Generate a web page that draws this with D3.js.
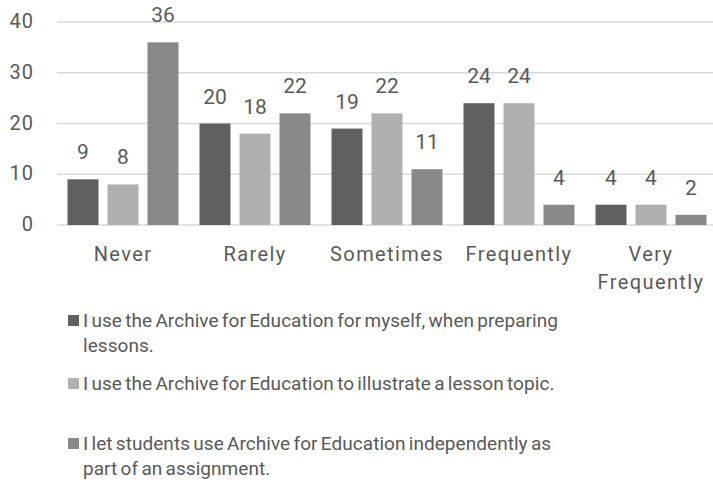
<!DOCTYPE html>
<html>
<head>
<meta charset="utf-8">
<script src="https://cdn.jsdelivr.net/npm/d3@7"></script>
<style>
  body { margin: 0; background: #fff; }
  text { font-family: Roboto, sans-serif; fill: #595959; }
</style>
</head>
<body>
<div id="chart"></div>
<script>
// Categories along the x axis (multi-line labels)
const categories = ["Never", "Rarely", "Sometimes", "Frequently", "Very Frequently"];
const categoryLines = [["Never"], ["Rarely"], ["Sometimes"], ["Frequently"], ["Very", "Frequently"]];

// Series values
const seriesNames = ["myself", "illustrate", "students"];
const myselfValues = [9, 20, 19, 24, 4];
const illustrateValues = [8, 18, 22, 24, 4];
const studentsValues = [36, 22, 11, 4, 2];

// Legend labels (already wrapped as in the picture)
const legendLines = [
    ["I use the Archive for Education for myself, when preparing", "lessons."],
    ["I use the Archive for Education to illustrate a lesson topic."],
    ["I let students use Archive for Education independently as", "part of an assignment."]
];

const yTicks = [0, 10, 20, 30, 40];
const colors = ["#606060", "#b0b0b0", "#898989"];

const width = 713, height = 484;
const margin = {top: 22, left: 57, right: -4, bottom: 259};

const svg = d3.select("#chart")
    .append("svg")
    .attr("width", width)
    .attr("height", height);

const allValues = [myselfValues, illustrateValues, studentsValues];

const y = d3.scaleLinear()
    .domain([0, 40])
    .range([225, margin.top]);

const x0 = d3.scaleBand()
    .domain(categories)
    .range([margin.left, width - margin.right]);

const x1 = d3.scaleBand()
    .domain(seriesNames)
    .range([0, x0.bandwidth()])
    .paddingInner(0.225)
    .paddingOuter(0.2625);

// Gridlines
svg.append("g")
    .selectAll("line")
    .data(yTicks)
    .join("line")
    .attr("x1", margin.left)
    .attr("x2", width)
    .attr("y1", d => y(d))
    .attr("y2", d => y(d))
    .attr("stroke", "#d9d9d9")
    .attr("stroke-width", 1.5);

// Y tick labels
svg.append("g")
    .selectAll("text")
    .data(yTicks)
    .join("text")
    .attr("x", 34)
    .attr("y", d => y(d) + 6)
    .attr("text-anchor", "end")
    .style("font-size", "20px")
    .style("letter-spacing", "1px")
    .text(d => d);

// Bars, grouped by category
const groups = svg.append("g")
    .selectAll("g")
    .data(categories)
    .join("g")
    .attr("transform", d => `translate(${x0(d)},0)`);

const cells = groups.selectAll("g")
    .data((c, ci) => seriesNames.map((s, si) => ({series: s, si: si, value: allValues[si][ci]})))
    .join("g");

cells.append("rect")
    .attr("x", d => x1(d.series))
    .attr("width", x1.bandwidth())
    .attr("y", d => y(d.value))
    .attr("height", d => y(0) - y(d.value))
    .attr("fill", d => colors[d.si]);

cells.append("text")
    .attr("x", d => x1(d.series) + x1.bandwidth() / 2)
    .attr("y", d => y(d.value) - 20)
    .attr("text-anchor", "middle")
    .style("font-size", "21px")
    .text(d => d.value);

// Category labels
svg.append("g")
    .selectAll("text")
    .data(categories)
    .join("text")
    .attr("x", d => x0(d) + x0.bandwidth() / 2)
    .attr("y", 261)
    .attr("text-anchor", "middle")
    .style("font-size", "20px")
    .style("letter-spacing", "1.4px")
    .selectAll("tspan")
    .data((d, i) => categoryLines[i])
    .join("tspan")
    .attr("x", function() { return this.parentNode.getAttribute("x"); })
    .attr("dy", (d, i) => i === 0 ? 0 : 28)
    .text(d => d);

// Legend
const legendY = [327, 390, 450];
const legend = svg.append("g")
    .selectAll("g")
    .data(seriesNames)
    .join("g")
    .attr("transform", (d, i) => `translate(68,${legendY[i]})`);

legend.append("rect")
    .attr("y", -12)
    .attr("width", 11)
    .attr("height", 11)
    .attr("fill", (d, i) => colors[i]);

legend.append("text")
    .attr("x", 15)
    .style("font-size", "19px")
    .style("letter-spacing", "0.05px")
    .style("word-spacing", "-1.5px")
    .selectAll("tspan")
    .data((d, i) => legendLines[i])
    .join("tspan")
    .attr("x", 15)
    .attr("dy", (d, i) => i === 0 ? 0 : 24.5)
    .text(d => d);
</script>
</body>
</html>
